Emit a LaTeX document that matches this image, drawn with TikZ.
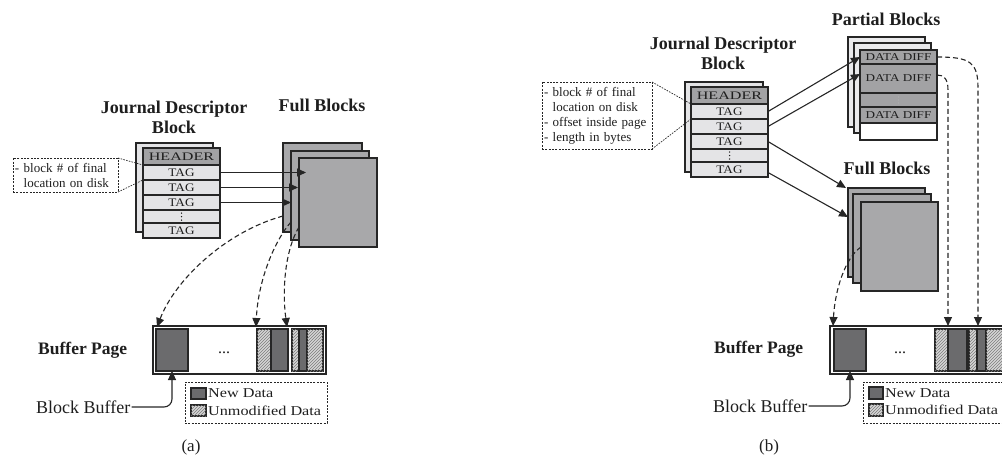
\documentclass[tikz,border=0pt]{standalone}
\usepackage{fontspec}
\setmainfont{Liberation Serif}
\usepackage{graphicx}
\usetikzlibrary{arrows.meta,patterns,calc}
\definecolor{edgec}{HTML}{262626}
\definecolor{txtc}{HTML}{1E1E1E}
\definecolor{rowc}{HTML}{E4E4E6}
\definecolor{hdrc}{HTML}{A2A2A4}
\definecolor{fullc}{HTML}{A8A8AA}
\definecolor{newc}{HTML}{6B6B6D}
\definecolor{hatchbg}{HTML}{D6D6D6}
\definecolor{hatchc}{HTML}{7C7C7C}
\definecolor{sheetc}{HTML}{EAEAEC}
\newcommand\wide[2]{\scalebox{#1}[1]{#2}}
\newcommand\tagfont{\fontsize{11.5pt}{12pt}\selectfont}
\newcommand\ddfont{\fontsize{10.5pt}{11pt}\selectfont}
\newcommand\titlefont{\fontsize{18pt}{20pt}\selectfont\bfseries}
\newcommand\callfont{\fontsize{13pt}{15pt}\selectfont}
\newcommand\legfont{\fontsize{13.5pt}{15pt}\selectfont}
\newcommand\bigfont{\fontsize{18pt}{20pt}\selectfont}
\newcommand\bpfont{\fontsize{17.5pt}{20pt}\selectfont\bfseries}
\newcommand\capfont{\fontsize{17pt}{20pt}\selectfont}
\newcommand\dotfont{\fontsize{16pt}{16pt}\selectfont}
\begin{document}
\begin{tikzpicture}[x=1pt,y=-1pt,
  every node/.style={text=txtc},
  box/.style={draw=edgec, line width=1.2pt, inner sep=0pt, outer sep=0pt, anchor=north west},
  sheetF/.style={box, fill=fullc, minimum width=78pt, minimum height=89pt},
  sheetP/.style={box, fill=sheetc, minimum width=77pt, minimum height=90pt},
  tagrow/.style={box, fill=rowc, minimum width=77pt, minimum height=15pt, font=\tagfont},
  hdrrow/.style={box, fill=hdrc, minimum width=77pt, minimum height=17pt, font=\tagfont},
  ddrow/.style={box, fill=hdrc, minimum width=77pt, font=\ddfont},
  newd/.style={box, fill=newc, minimum height=42pt},
  hatch/.style={box, fill=hatchbg, minimum height=42pt, postaction={pattern=north east lines, pattern color=hatchc}},
  pagebox/.style={box, fill=white, minimum height=48pt},
  callout/.style={draw=edgec, line width=0.8pt, dash pattern=on 2pt off 1.3pt, anchor=north west, inner sep=0pt, outer sep=0pt},
  leader/.style={draw=edgec, line width=0.7pt, dash pattern=on 1.6pt off 1.2pt},
  conn/.style={draw=edgec, line width=1.1pt, -{Triangle[length=9pt,width=8pt]}},
  dconn/.style={conn, dash pattern=on 5pt off 3pt},
  titletext/.style={font=\titlefont, align=center, inner sep=0pt},
  lbl/.style={anchor=west, inner sep=1pt},
  leg/.style={anchor=west, inner sep=1pt, font=\legfont},
  vdot/.style={fill=txtc}
]
\useasboundingbox (0,0) rectangle (1002,463);
\clip (0,0) rectangle (1002,463);

%%%%%%%%%%%%%%%% (a) %%%%%%%%%%%%%%%%
\node[titletext] (jdtA) at (174,117) {Journal Descriptor\\Block};
\node[titletext] (fbtA) at (322,105) {Full Blocks};

\node[box, fill=rowc, minimum width=77pt, minimum height=89pt] (jdbA) at (136,143) {};
\node[hdrrow] (hdA) at (143,148) {\wide{1.4}{HEADER}};
\node[tagrow] (t1A) at (143,165) {\wide{1.15}{TAG}};
\node[tagrow] (t2A) at (143,180) {\wide{1.15}{TAG}};
\node[tagrow] (t3A) at (143,195) {\wide{1.15}{TAG}};
\node[tagrow, minimum height=13pt] (tdA) at (143,210) {};
\foreach \k in {-3.5,0,3.5} \fill[vdot] ($(tdA.center)+(0,\k)$) circle (0.75pt);
\node[tagrow] (t4A) at (143,223) {\wide{1.15}{TAG}};

\node[callout, text width=101pt, inner xsep=2pt, minimum height=34pt, align=left, font=\callfont] (coA) at (13,158)
  {\mbox{- block \# of final}\\\mbox{\phantom{- }location on disk}};
\draw[leader] (coA.north east) -- (t1A.north west);
\draw[leader] (coA.south east) -- (t1A.south west);

\node[sheetF, minimum width=79pt] (f1A) at (283,143) {};
\node[sheetF] (f2A) at (291,151) {};
\node[sheetF] (f3A) at (299,158) {};

\draw[conn] (t1A.east) -- ($(f3A.west |- t1A.east)+(7,0)$);
\draw[conn] (t2A.east) -- ($(f2A.west |- t2A.east)+(7,0)$);
\draw[conn] (t3A.east) -- ($(f1A.west |- t3A.east)+(8,0)$);

\node[pagebox, minimum width=173pt] (bpA) at (153,326) {};
\node[newd, minimum width=32pt] (bp1A) at (156,329) {};
\node[font=\dotfont, anchor=base, inner sep=0pt] (dotsA) at (224,353) {...};
\node[hatch, minimum width=14pt] (bh1A) at (257,329) {};
\node[newd, minimum width=17pt] (bd1A) at (271,329) {};
\node[hatch, minimum width=7pt] (bh2A) at (292,329) {};
\node[newd, minimum width=8pt] (bd2A) at (299,329) {};
\node[hatch, minimum width=16pt] (bh3A) at (307,329) {};

\draw[dconn] ($(f1A.north west)+(0,73)$) .. controls (225,232) and (175,280) .. ($(bp1A.north west)+(1,-2)$);
\draw[dconn] ($(f2A.north west)+(0,71)$) .. controls (275,240) and (258,280) .. ($(bh1A.north west)+(-1,-2)$);
\draw[dconn] ($(f3A.north west)+(0,69)$) .. controls (285,250) and (282,290) .. ($(bd1A.north east)+(-1,-2)$);

\node[lbl, font=\bpfont] (bplA) at (37,350) {Buffer Page};
\node[lbl, font=\bigfont] (bbA) at (35,407) {Block Buffer};
\draw[conn, rounded corners=8pt] (bbA.east) -| (bp1A.south);

\node[callout, minimum width=142pt, minimum height=41pt] (lgA) at (185,382) {};
\node[newd, minimum width=15pt, minimum height=11pt] (lnA) at (191,388) {};
\node[hatch, minimum width=15pt, minimum height=11pt] (lhA) at (191,405) {};
\node[leg] (lntA) at ($(lnA.east)+(1,0)$) {\wide{1.2}{New Data}};
\node[leg] (lhtA) at ($(lhA.east)+(1,0)$) {\wide{1.2}{Unmodified Data}};

\node[font=\capfont] (capA) at (191,447) {(a)};

%%%%%%%%%%%%%%%% (b) %%%%%%%%%%%%%%%%
\node[titletext] (jdtB) at (723,53) {Journal Descriptor\\Block};
\node[titletext] (pbtB) at (886,19) {Partial Blocks};
\node[titletext] (fbtB) at (887,168) {Full Blocks};

\node[callout, text width=106pt, inner xsep=2pt, minimum height=67pt, align=left, font=\callfont] (coB) at (542,82)
  {\mbox{- block \# of final}\\\mbox{\phantom{- }location on disk}\\\mbox{- offset inside page}\\\mbox{- length in bytes}};

\node[box, fill=rowc, minimum width=78pt, minimum height=90pt] (jdbB) at (685,82) {};
\node[hdrrow] (hdB) at (691,87) {\wide{1.4}{HEADER}};
\node[tagrow] (t1B) at (691,104) {\wide{1.15}{TAG}};
\node[tagrow] (t2B) at (691,119) {\wide{1.15}{TAG}};
\node[tagrow] (t3B) at (691,134) {\wide{1.15}{TAG}};
\node[tagrow, minimum height=13pt] (tdB) at (691,149) {};
\foreach \k in {-3.5,0,3.5} \fill[vdot] ($(tdB.center)+(0,\k)$) circle (0.75pt);
\node[tagrow] (t4B) at (691,162) {\wide{1.15}{TAG}};

\draw[leader] (coB.north east) -- (t1B.north west);
\draw[leader] (coB.south east) -- (t1B.south west);

\node[sheetP] (p1B) at (848,37) {};
\node[sheetP] (p2B) at (854,43) {};
\node[ddrow, minimum height=14pt] (dd1B) at (860,50) {\wide{1.25}{DATA DIFF}};
\node[ddrow, minimum height=29pt] (dd2B) at (860,64) {\wide{1.25}{DATA DIFF}};
\node[ddrow, minimum height=14pt] (ddvB) at (860,93) {};
\foreach \k in {-3,0,3} \fill[gray!60] ($(ddvB.center)+(0,\k)$) circle (0.6pt);
\node[ddrow, minimum height=16pt] (dd3B) at (860,107) {\wide{1.25}{DATA DIFF}};
\node[box, fill=white, minimum width=77pt, minimum height=17pt] (dd4B) at (860,123) {};

\node[sheetF, minimum width=77pt] (f1B) at (848,188) {};
\node[sheetF] (f2B) at (853,194) {};
\node[sheetF, minimum width=77pt] (f3B) at (861,202) {};

\draw[conn] (t1B.east) -- (dd1B.west);
\draw[conn] (t2B.east) -- ($(dd2B.north west)+(0,10)$);
\draw[conn] (t3B.east) -- ($(f1B.north west)+(-2,0)$);
\draw[conn] ($(t4B.east)+(0,3)$) -- ($(f1B.north west)+(0,29)$);

\node[pagebox, minimum width=174pt] (bpB) at (830,326) {};
\node[newd, minimum width=32pt] (bp1B) at (834,329) {};
\node[font=\dotfont, anchor=base, inner sep=0pt] (dotsB) at (900,353) {...};
\node[hatch, minimum width=13pt] (bh1B) at (935,329) {};
\node[newd, minimum width=19pt] (bd1B) at (948,329) {};
\node[hatch, minimum width=8pt] (bh2B) at (969,329) {};
\node[newd, minimum width=9pt] (bd2B) at (977,329) {};
\node[hatch, minimum width=17pt] (bh3B) at (986,329) {};

\draw[dconn] ($(f3B.north west)+(0,45)$) .. controls (845,258) and (835,290) .. ($(bp1B.north west)+(-1,-3)$);
\draw[dconn] (dd1B.east) .. controls (970,57) and (978,62) .. (978,88) -- ($(bd2B.north west)+(1,-3)$);
\draw[dconn] ($(dd2B.north east)+(0,11)$) .. controls (944,75) and (948,79) .. (948,90) -- ($(bd1B.north west)+(0,-3)$);

\node[lbl, font=\bpfont] (bplB) at (713,349) {Buffer Page};
\node[lbl, font=\bigfont] (bbB) at (712,406) {Block Buffer};
\draw[conn, rounded corners=8pt] (bbB.east) -| (bp1B.south);

\node[callout, minimum width=142pt, minimum height=41pt] (lgB) at (863,382) {};
\node[newd, minimum width=14pt, minimum height=12pt] (lnB) at (869,387) {};
\node[hatch, minimum width=14pt, minimum height=12pt] (lhB) at (869,404) {};
\node[leg] (lntB) at ($(lnB.east)+(1,0)$) {\wide{1.2}{New Data}};
\node[leg] (lhtB) at ($(lhB.east)+(1,0)$) {\wide{1.2}{Unmodified Data}};

\node[font=\capfont] (capB) at (769,447) {(b)};
\end{tikzpicture}
\end{document}
